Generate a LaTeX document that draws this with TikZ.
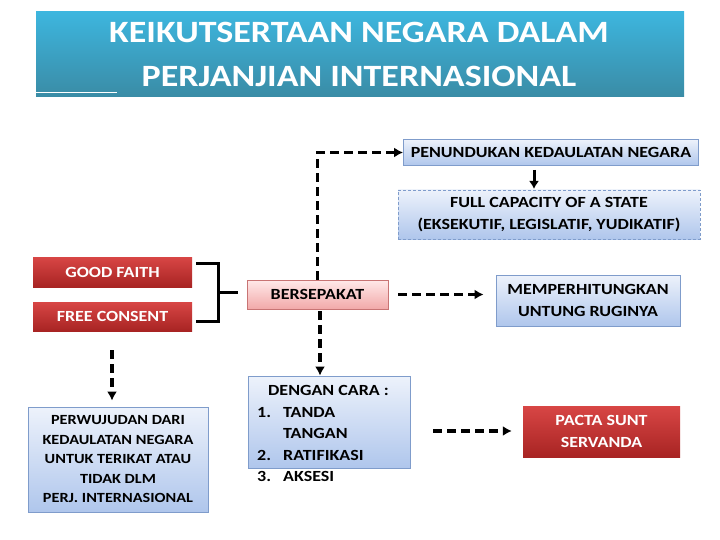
\documentclass[tikz,border=0pt]{standalone}
\usepackage{fontspec}
\setmainfont{Carlito}
\newfontfamily\widefont[FakeStretch=1.16]{Carlito}
\usetikzlibrary{arrows.meta}
\definecolor{titletop}{HTML}{3DB6DF}
\definecolor{titlebot}{HTML}{3A8CA6}
\definecolor{bluetop}{HTML}{EDF2FB}
\definecolor{bluebot}{HTML}{AFC6EC}
\definecolor{blueborder}{HTML}{7F9CCB}
\definecolor{redtop}{HTML}{D84645}
\definecolor{redbot}{HTML}{A82423}
\definecolor{pinktop}{HTML}{FFE9E9}
\definecolor{pinkbot}{HTML}{F2A9A9}
\definecolor{pinkborder}{HTML}{C87474}
\tikzset{
  boxfont/.style={font=\widefont\bfseries\fontsize{15.5}{21.5}\selectfont},
  bluebox/.style={draw=blueborder, line width=0.8pt, top color=bluetop, bottom color=bluebot, boxfont, align=center, inner sep=0pt},
  redbox/.style={top color=redtop, bottom color=redbot, draw=none, text=white, boxfont, align=center, inner sep=0pt},
  pinkbox/.style={draw=pinkborder, line width=0.8pt, top color=pinktop, bottom color=pinkbot, boxfont, align=center, inner sep=0pt},
  dashline/.style={line width=3.3pt, dash pattern=on 9pt off 5pt, -{Latex[length=9pt,width=10pt]}},
  brack/.style={line width=3pt}
}
\begin{document}
\begin{tikzpicture}[x=1pt,y=-1pt]
\useasboundingbox (0,0) rectangle (720,540);
% title
\node[top color=titletop, bottom color=titlebot, minimum width=648pt, minimum height=85pt, inner sep=0pt, anchor=north west] (title) at (36,11) {};
\node[text=white, font=\widefont\bfseries\fontsize{31}{44}\selectfont, align=center] (titletext) at (359,54) {KEIKUTSERTAAN NEGARA DALAM\\PERJANJIAN INTERNASIONAL};
\coordinate (ul1) at (36,93);
\coordinate (ul2) at (117,93);
\draw[white, line width=1pt] (ul1) -- (ul2);
% boxes
\node[bluebox, minimum width=295pt, minimum height=26pt] (pen) at (551,152.5) {PENUNDUKAN KEDAULATAN NEGARA};
\node[bluebox, dashed, dash pattern=on 3pt off 2pt, minimum width=302pt, minimum height=49pt] (full) at (549,214.5) {FULL CAPACITY OF A STATE\\(EKSEKUTIF, LEGISLATIF, YUDIKATIF)};
\node[redbox, minimum width=159pt, minimum height=30pt] (good) at (112.5,272) {GOOD FAITH};
\node[redbox, minimum width=159pt, minimum height=29pt] (free) at (112.5,316.5) {FREE CONSENT};
\node[pinkbox, minimum width=141pt, minimum height=29pt] (bers) at (317.5,294.5) {BERSEPAKAT};
\node[bluebox, minimum width=184pt, minimum height=51pt] (mem) at (588,300.5) {MEMPERHITUNGKAN\\UNTUNG RUGINYA};
\node[bluebox, minimum width=162pt, minimum height=92pt] (deng) at (329,422) {};
\node[boxfont, anchor=base, inner sep=0pt] (dengtext) at (328.5,395) {DENGAN CARA :};
\node[boxfont, anchor=base west, inner sep=0pt] (l1n) at (257,417) {1.};
\node[boxfont, anchor=base west, inner sep=0pt] (l1) at (283,417) {TANDA};
\node[boxfont, anchor=base west, inner sep=0pt] (l1b) at (283,438.5) {TANGAN};
\node[boxfont, anchor=base west, inner sep=0pt] (l2n) at (257,460) {2.};
\node[boxfont, anchor=base west, inner sep=0pt] (l2) at (283,460) {RATIFIKASI};
\node[boxfont, anchor=base west, inner sep=0pt] (l3n) at (257,481.5) {3.};
\node[boxfont, anchor=base west, inner sep=0pt] (l3) at (283,481.5) {AKSESI};
\node[bluebox, font=\widefont\bfseries\fontsize{14}{19.5}\selectfont, minimum width=180pt, minimum height=105pt] (perw) at (118,459.5) {PERWUJUDAN DARI\\KEDAULATAN NEGARA\\UNTUK TERIKAT ATAU\\TIDAK DLM\\PERJ. INTERNASIONAL};
\node[redbox, minimum width=157pt, minimum height=51pt] (pacta) at (601.5,431.5) {PACTA SUNT\\SERVANDA};
% bracket
\coordinate (b1) at (196,263);
\coordinate (b2) at (218,263);
\coordinate (b3) at (218,321);
\coordinate (b4) at (196,321);
\coordinate (bm) at (218,292);
\coordinate (bm2) at (238,292);
\draw[brack] (b1) -- (b2) -- (b3) -- (b4);
\draw[brack] (bm) -- (bm2);
% connectors
\draw[dashline] (bers.north) |- (pen.west);
\coordinate (bs) at (320,309);
\draw[dashline, shorten <=2pt] (bs) -- (bs |- deng.north);
\draw[dashline, shorten <=10pt, shorten >=12pt] (bers.east) -- (bers.east -| mem.west);
\coordinate (pa1) at (433,431);
\draw[dashline, shorten >=11pt] (pa1) -- (pa1 -| pacta.west);
\coordinate (fa1) at (112,350);
\draw[dashline, shorten >=6pt] (fa1) -- (fa1 |- perw.north);
\coordinate (pd1) at (534,170);
\draw[line width=3pt, -{Latex[length=8pt,width=10pt]}] (pd1) -- (534,189);
\end{tikzpicture}
\end{document}
